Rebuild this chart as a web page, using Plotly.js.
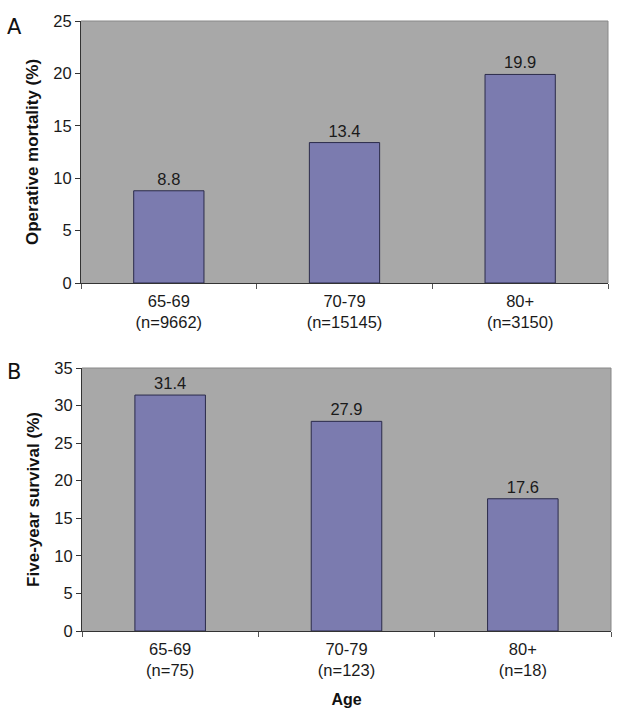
<!DOCTYPE html>
<html>
<head>
<meta charset="utf-8">
<script src="https://cdn.plot.ly/plotly-3.0.1.min.js"></script>
<style>html,body{margin:0;padding:0;background:#fff;}#chart{width:624px;height:717px;}</style>
</head>
<body>
<div id="chart"></div>
<script>
const ageGroups = ["65-69", "70-79", "80+"];
const mortalityN = [9662, 15145, 3150];
const mortalityValues = [8.8, 13.4, 19.9];
const survivalN = [75, 123, 18];
const survivalValues = [31.4, 27.9, 17.6];

const labelsA = ageGroups.map((g, i) => g + "<br>(n=" + mortalityN[i] + ")");
const labelsB = ageGroups.map((g, i) => g + "<br>(n=" + survivalN[i] + ")");

const W = 624, H = 717;
const fx = px => px / W;
const fy = py => 1 - py / H;

const barColor = "#7b7baf";
const barLine = "#2b2b4a";
const FAM = "Liberation Sans, Arial, sans-serif";
const font = {family: FAM, size: 16.5, color: "#1a1a1a"};
const titleFont = {family: FAM, size: 17, color: "#111"};

const traces = [
  {type: "bar", x: labelsA, y: mortalityValues, xaxis: "x", yaxis: "y",
   marker: {color: barColor, line: {color: barLine, width: 1}},
   text: mortalityValues.map(v => v.toFixed(1)), textposition: "outside", cliponaxis: false,
   textfont: font, hoverinfo: "skip"},
  {type: "bar", x: labelsB, y: survivalValues, xaxis: "x2", yaxis: "y2",
   marker: {color: barColor, line: {color: barLine, width: 1}},
   text: survivalValues.map(v => v.toFixed(1)), textposition: "outside", cliponaxis: false,
   textfont: font, hoverinfo: "skip"}
];

const xCommon = {
  type: "category", showgrid: false, zeroline: false,
  showline: true, linecolor: "#333", linewidth: 1,
  ticks: "outside", tickson: "boundaries", ticklen: 5, tickcolor: "#555",
  ticklabelstandoff: 3,
  tickfont: font, fixedrange: true
};
const yCommon = {
  showgrid: false, zeroline: false, showline: true, linecolor: "#333", linewidth: 1,
  ticks: "outside", ticklen: 5, tickcolor: "#333", tickfont: font, dtick: 5, fixedrange: true
};

const layout = {
  width: W, height: H,
  margin: {l: 0, r: 0, t: 0, b: 0},
  paper_bgcolor: "#ffffff",
  plot_bgcolor: "#a8a8a8",
  showlegend: false,
  bargap: 0.6,
  xaxis: Object.assign({}, xCommon, {domain: [fx(81), fx(608)], anchor: "y"}),
  yaxis: Object.assign({}, yCommon, {domain: [fy(283), fy(21)], anchor: "x", range: [0, 25],
    title: {text: "<b>Operative mortality (%)</b>", font: titleFont, standoff: 10}}),
  xaxis2: Object.assign({}, xCommon, {domain: [fx(82), fx(611)], anchor: "y2",
    title: {text: "<b>Age</b>", font: {family: FAM, size: 16, color: "#111"}, standoff: 15}}),
  yaxis2: Object.assign({}, yCommon, {domain: [fy(631), fy(368)], anchor: "x2", range: [0, 35],
    title: {text: "<b>Five-year survival (%)</b>", font: titleFont, standoff: 10}}),
  shapes: [
    {type: "line", xref: "x domain", yref: "y domain", x0: 0, x1: 1, y0: 1, y1: 1, line: {color: "#888", width: 1}},
    {type: "line", xref: "x domain", yref: "y domain", x0: 1, x1: 1, y0: 0, y1: 1, line: {color: "#888", width: 1}},
    {type: "line", xref: "x2 domain", yref: "y2 domain", x0: 0, x1: 1, y0: 1, y1: 1, line: {color: "#888", width: 1}},
    {type: "line", xref: "x2 domain", yref: "y2 domain", x0: 1, x1: 1, y0: 0, y1: 1, line: {color: "#888", width: 1}}
  ],
  annotations: [
    {text: "A", xref: "paper", yref: "paper", x: fx(5), y: fy(13), xanchor: "left", yanchor: "top",
     showarrow: false, font: {family: "DejaVu Sans, sans-serif", size: 21, color: "#111"}},
    {text: "B", xref: "paper", yref: "paper", x: fx(5), y: fy(358), xanchor: "left", yanchor: "top",
     showarrow: false, font: {family: "DejaVu Sans, sans-serif", size: 21, color: "#111"}}
  ]
};

Plotly.newPlot("chart", traces, layout, {displayModeBar: false, staticPlot: true});
</script>
</body>
</html>
